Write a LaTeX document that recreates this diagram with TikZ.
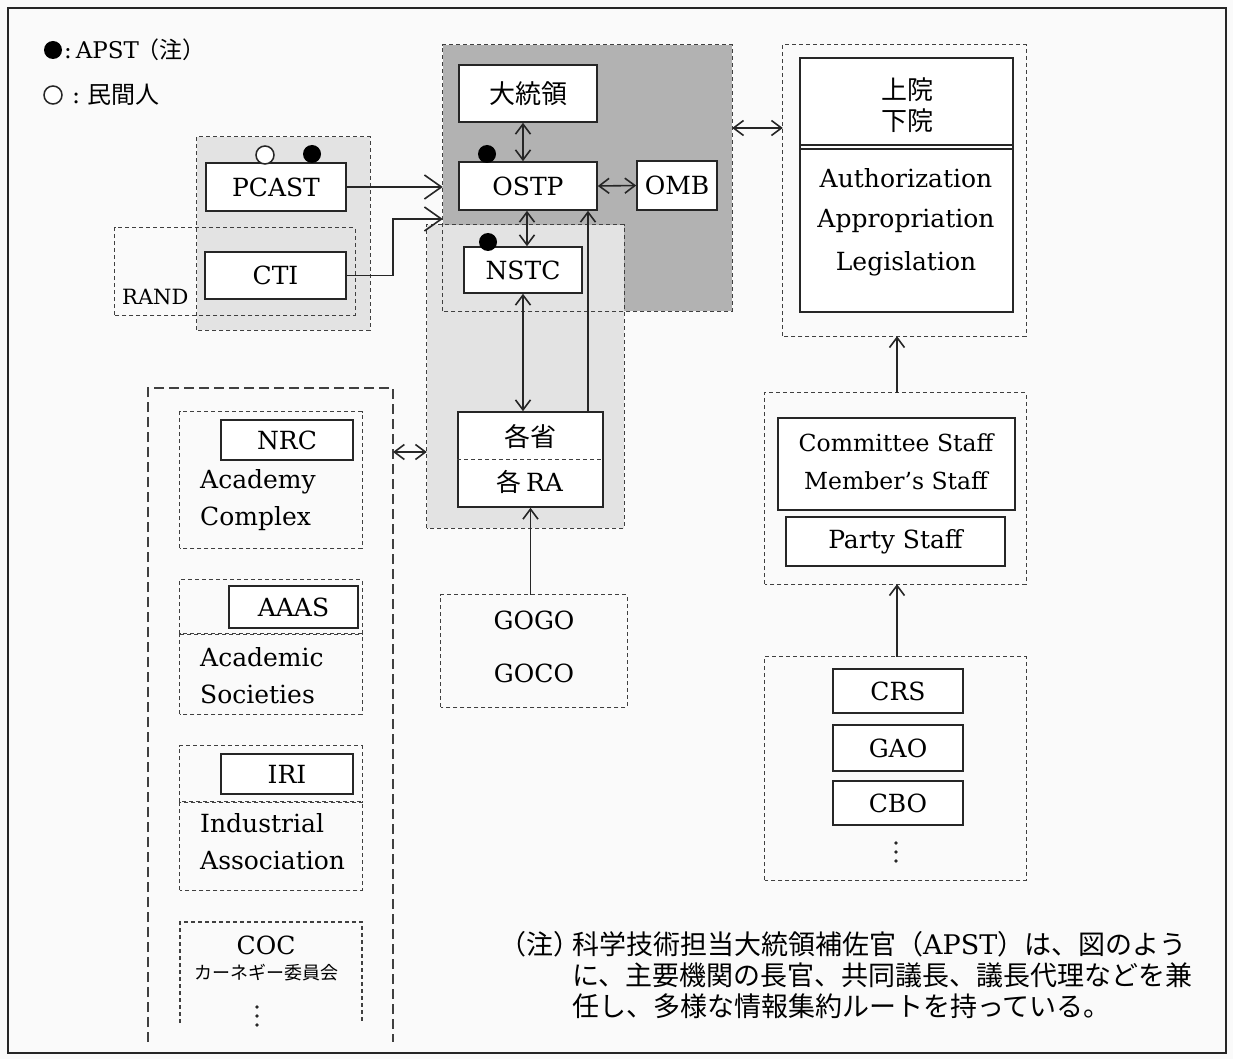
\documentclass[tikz,border=0pt]{standalone}
\usepackage{fontspec}
\setmainfont{DejaVu Serif}
\newfontfamily\jp{Noto Sans CJK JP}
\usetikzlibrary{arrows.meta}
\tikzset{
  lbl/.style={font=\fontsize{25}{30}\selectfont},
  jl/.style={font=\fontsize{26}{30}\selectfont\jp},
  box/.style={draw=black!85, line width=1.6pt, fill=white, inner sep=0pt, lbl},
  grp/.style={draw=black!75, line width=1.3pt, dash pattern=on 4pt off 3pt},
  longdash/.style={draw=black!75, line width=1.3pt, dash pattern=on 10pt off 5pt},
  area/.style={inner sep=0pt, draw=none},
  conn/.style={line width=1.6pt, draw=black!85},
  >={Straight Barb[length=10pt,width=15pt]},
  bigarr/.style={conn, -{Straight Barb[length=17pt,width=24pt]}},
  dot/.style={circle, fill=black, inner sep=0pt, minimum size=18pt},
  odot/.style={circle, draw=black!85, line width=1.5pt, fill=white, inner sep=0pt, minimum size=18pt},
  sdot/.style={circle, fill=black!85, inner sep=0pt, minimum size=3.6pt},
  note/.style={font=\fontsize{27}{31}\selectfont\jp, anchor=west, inner sep=0pt},
}
\begin{document}
\begin{tikzpicture}[x=1pt,y=-1pt]
\useasboundingbox (0,0) rectangle (1233,1059);
\fill[black!2] (0,0) rectangle (1233,1059);
\draw[line width=1.6pt, black!85] (8,8) rectangle (1226,1053);

% legend
\node[dot] (legA) at (53,50) {};
\node[anchor=west, inner sep=0pt, font=\fontsize{23}{28}\selectfont] (legAt) at (64,50) {:\,APST\hspace{-2pt}{\jp （注）}};
\node[odot] (legB) at (53,95) {};
\node[anchor=west, inner sep=0pt, font=\fontsize{24}{28}\selectfont] (legBt) at (72,95) {:\ {\jp 民間人}};

% PCAST group
\node[area, fill=black!11, minimum width=173pt, minimum height=193pt] (pgrp) at (283.5,233.5) {};
\draw[grp] (pgrp.south west) rectangle (pgrp.north east);
\node[area, minimum width=240pt, minimum height=87pt] (rand) at (235,271.5) {};
\draw[grp] (rand.south west) rectangle (rand.north east);
\node[font=\fontsize{21}{26}\selectfont, anchor=west, inner sep=0pt] (randt) at (122,297) {RAND};
\node[box, minimum width=140pt, minimum height=48pt] (PCAST) at (276,187) {PCAST};
\node[box, minimum width=141pt, minimum height=47pt] (CTI) at (275.5,275.5) {CTI};
\node[odot] (pc1) at (265,155) {};
\node[dot] (pc2) at (312,154) {};

% executive areas
\node[area, fill=black!30, minimum width=289pt, minimum height=266pt] (dark) at (587.5,178) {};
\node[area, fill=black!11, minimum width=197pt, minimum height=303pt] (light) at (525.5,376.5) {};
\draw[grp] (dark.south west) rectangle (dark.north east);
\draw[grp] (light.south west) rectangle (light.north east);

\node[box, jl, minimum width=138pt, minimum height=57pt] (pres) at (528,93.5) {大統領};
\node[box, minimum width=138pt, minimum height=48pt] (OSTP) at (528,186) {OSTP};
\node[box, minimum width=80pt, minimum height=49pt] (OMB) at (677,185.5) {OMB};
\node[box, minimum width=118pt, minimum height=46pt] (NSTC) at (523,270) {NSTC};
\node[dot] (od) at (487,154) {};
\node[dot] (nd) at (488,242) {};

\node[box, minimum width=145pt, minimum height=95pt] (mins) at (530.5,459.5) {};
\draw[grp, line width=1.1pt] (mins.west) -- (mins.east);
\node[jl] (minst) at (530,437) {各省};
\node[lbl] (rat) at (530,482) {{\jp 各}\,RA};

\node[area, minimum width=186pt, minimum height=112pt] (gogo) at (534,651) {};
\draw[grp] (gogo.south west) rectangle (gogo.north east);
\node[lbl] (gogot) at (534,620) {GOGO};
\node[lbl] (gocot) at (534,673) {GOCO};

% left column
\coordinate (colBL) at (148,1042);
\coordinate (colTL) at (148,388);
\coordinate (colR) at (393,388);
\coordinate (colBR) at (393,1042);
\draw[longdash] (colBL) -- (colTL) -- (colR) -- (colBR);

\node[area, minimum width=182pt, minimum height=136pt] (nrcg) at (271,480) {};
\draw[grp] (nrcg.south west) rectangle (nrcg.north east);
\node[box, minimum width=132pt, minimum height=40pt] (NRC) at (287,440) {NRC};
\node[lbl, anchor=west, inner sep=0pt] (acad1) at (200,482) {Academy};
\node[lbl, anchor=west, inner sep=0pt] (acad2) at (200,519) {Complex};

\node[area, minimum width=182pt, minimum height=54pt] (aaasg) at (271,607) {};
\draw[grp] (aaasg.south west) rectangle (aaasg.north east);
\node[box, minimum width=129pt, minimum height=42pt] (AAAS) at (293.5,607) {AAAS};
\node[area, minimum width=182pt, minimum height=80pt] (socg) at (271,674) {};
\draw[grp] (socg.south west) rectangle (socg.north east);
\node[lbl, anchor=west, inner sep=0pt] (soc1) at (200,657) {Academic};
\node[lbl, anchor=west, inner sep=0pt] (soc2) at (200,694) {Societies};

\node[area, minimum width=182pt, minimum height=56pt] (irig) at (271,774) {};
\draw[grp] (irig.south west) rectangle (irig.north east);
\node[box, minimum width=132pt, minimum height=40pt] (IRI) at (287,774) {IRI};
\node[area, minimum width=182pt, minimum height=88pt] (indg) at (271,846) {};
\draw[grp] (indg.south west) rectangle (indg.north east);
\node[lbl, anchor=west, inner sep=0pt] (ind1) at (200,823) {Industrial};
\node[lbl, anchor=west, inner sep=0pt] (ind2) at (200,860) {Association};

\coordinate (cocBL) at (180,1023);
\coordinate (cocTL) at (180,922);
\coordinate (cocTR) at (362,922);
\coordinate (cocBR) at (362,1023);
\draw[grp] (cocBL) -- (cocTL) -- (cocTR) -- (cocBR);
\node[lbl] (coct) at (266,945) {COC};
\node[font=\fontsize{18}{22}\selectfont\jp] (carn) at (266,973) {カーネギー委員会};
\node[sdot] (cd1) at (257,1007) {};
\node[sdot] (cd2) at (257,1016) {};
\node[sdot] (cd3) at (257,1025) {};

% congress
\node[area, minimum width=243pt, minimum height=291pt] (congout) at (904.5,190.5) {};
\draw[grp] (congout.south west) rectangle (congout.north east);
\node[box, minimum width=213pt, minimum height=254pt] (cong) at (906.5,185) {};
\coordinate (d1) at (0,145);
\coordinate (d2) at (0,149);
\draw[line width=1.4pt, black!85] (cong.west |- d1) -- (cong.east |- d1);
\draw[line width=1.4pt, black!85] (cong.west |- d2) -- (cong.east |- d2);
\node[jl] (sen) at (907,90) {上院};
\node[jl] (hou) at (907,121) {下院};
\node[lbl] (auth) at (906,178) {Authorization};
\node[lbl] (appr) at (906,221) {Appropriation};
\node[lbl] (legi) at (906,264) {Legislation};

\node[area, minimum width=261pt, minimum height=191pt] (staff) at (895.5,488.5) {};
\draw[grp] (staff.south west) rectangle (staff.north east);
\node[box, minimum width=237pt, minimum height=92pt] (comm) at (896.5,464) {};
\node[lbl, font=\fontsize{23.5}{28}\selectfont] (comm1) at (896,443) {Committee Staff};
\node[lbl, font=\fontsize{23.5}{28}\selectfont] (comm2) at (896,481) {Member's Staff};
\node[box, minimum width=219pt, minimum height=49pt] (party) at (895.5,541.5) {Party Staff};

\node[area, minimum width=261pt, minimum height=223pt] (support) at (895.5,768.5) {};
\draw[grp] (support.south west) rectangle (support.north east);
\node[box, minimum width=130pt, minimum height=44pt] (CRS) at (898,691) {CRS};
\node[box, minimum width=130pt, minimum height=46pt] (GAO) at (898,748) {GAO};
\node[box, minimum width=130pt, minimum height=44pt] (CBO) at (898,803) {CBO};
\node[sdot] (sd1) at (896,843) {};
\node[sdot] (sd2) at (896,852) {};
\node[sdot] (sd3) at (896,861) {};

% connectors
\draw[bigarr] (PCAST.east) -- (dark.west |- PCAST.east);
\coordinate (ctiy) at (0,219);
\coordinate (ctix) at (393,0);
\draw[bigarr] (CTI.east) -- (ctix |- CTI.east) -- (ctix |- ctiy) -- (dark.west |- ctiy);
\draw[conn,<->] ([xshift=-5pt]pres.south) -- ([xshift=-5pt]OSTP.north);
\draw[conn,<->] (OSTP.east) -- (OMB.west);
\coordinate (x527) at (527,0);
\draw[conn,<->] (x527 |- OSTP.south) -- (x527 |- NSTC.north);
\draw[conn,<->] (NSTC.south) -- (NSTC.south |- mins.north);
\coordinate (x588) at (588,0);
\draw[conn,->] (x588 |- mins.north) -- (x588 |- OSTP.south);
\draw[conn,->] (mins.south |- gogo.north) -- (mins.south);
\coordinate (y452) at (0,452);
\draw[conn,<->] (colR |- y452) -- (light.west |- y452);
\coordinate (y128) at (0,128);
\draw[conn,<->] (dark.east |- y128) -- (congout.west |- y128);
\coordinate (x897) at (897,0);
\draw[conn,->] (x897 |- staff.north) -- (x897 |- congout.south);
\draw[conn,->] (x897 |- support.north) -- (x897 |- staff.south);

% note
\node[note] (n0) at (499,944) {（注）};
\node[note] (n1) at (572,944) {科学技術担当大統領補佐官（{\rmfamily APST}）は、図のよう};
\node[note] (n2) at (572,975) {に、主要機関の長官、共同議長、議長代理などを兼};
\node[note] (n3) at (572,1006) {任し、多様な情報集約ルートを持っている。};
\end{tikzpicture}
\end{document}
